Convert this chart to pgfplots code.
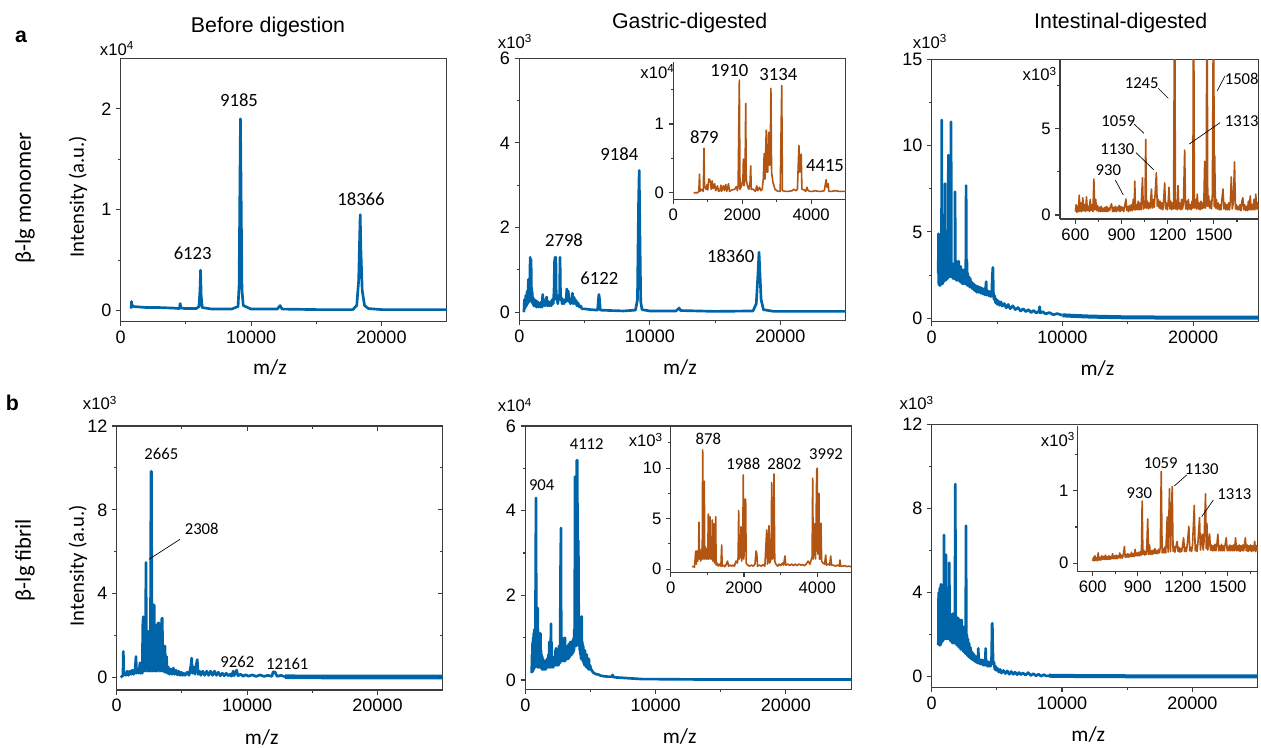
\documentclass[border=0pt]{standalone}
\usepackage{pgfplots}
\pgfplotsset{compat=1.18}
\usepackage{fontspec}
\setmainfont{Carlito}
\newfontfamily\arialf{Liberation Sans}
\definecolor{specblue}{RGB}{0,101,168}
\definecolor{specorange}{RGB}{178,84,18}
\definecolor{axgray}{RGB}{60,60,60}
\pgfplotsset{
  base/.style={scale only axis, anchor=south west,
    scaled x ticks=false, scaled y ticks=false,
    axis line style={draw=axgray, line width=0.8pt},
    tick style={draw=axgray, line width=0.8pt},
    major tick length=3.5pt, minor tick length=2pt,
    tick align=outside, tick pos=left,
    tick label style={font=\arialf\fontsize{13.5}{15}\selectfont, text=black},
    /pgf/number format/assume math mode=true,
  },
  mainax/.style={base, xmin=0, xmax=25000, xtick={0,10000,20000}, xticklabels={0,10000,20000}, minor xtick={5000,15000}},
  inset/.style={base, axis x line*=bottom, axis y line*=left,
    every outer x axis line/.append style={-}, every outer y axis line/.append style={-},
    tick label style={font=\arialf\fontsize{12.5}{14}\selectfont}},
  bl/.style={specblue, mark=none, line width=2pt, line join=round},
  orl/.style={specorange, mark=none, line width=1.2pt, line join=round},
}
\newcommand\annA{\fontsize{14}{16}\selectfont}
\newcommand\annB{\fontsize{12.5}{14}\selectfont}
\newcommand\scl[1]{\arialf\fontsize{12.5}{14}\selectfont x10\textsuperscript{#1}}
\begin{document}
\begin{tikzpicture}[x=0.75pt,y=-0.75pt]
\path[use as bounding box] (0,0) rectangle (1261,748);
% ---------------- a1
\begin{axis}[mainax, at={(0.75*120.7pt,-0.75*321.7pt)}, width=244.5pt, height=197.55pt,
  ymin=-0.11, ymax=2.5, ytick={0,1,2}, yticklabels={0,1,2}, minor ytick={0.5,1.5}]
\addplot[bl] coordinates {(800,0.02)(830,0.09)(860,0.06)(900,0.05)(1000,0.04)(1500,0.035)(2000,0.03)(3000,0.03)(4000,0.025)(4500,0.02)(4560,0.07)(4620,0.025)(5000,0.02)(5800,0.02)(6000,0.04)(6080,0.2)(6123,0.4)(6170,0.15)(6250,0.03)(7000,0.015)(8500,0.015)(9000,0.04)(9080,0.25)(9140,1.2)(9185,1.9)(9230,1.2)(9300,0.2)(9400,0.05)(10000,0.015)(12000,0.015)(12230,0.05)(12300,0.03)(12400,0.015)(15000,0.01)(17800,0.01)(18100,0.05)(18250,0.3)(18330,0.75)(18366,0.95)(18420,0.6)(18520,0.2)(18700,0.05)(19000,0.02)(20000,0.01)(25000,0.01)};
\end{axis}
% ---------------- a2
\begin{axis}[mainax, at={(0.75*519.3pt,-0.75*320.7pt)}, width=244.8pt, height=196.8pt,
  ymin=-0.2, ymax=6, ytick={0,2,4,6}, yticklabels={0,2,4,6}, minor ytick={1,3,5}]
\addplot[bl] coordinates {(350,0.0)(400,0.3)(450,0.1)(500,0.4)(550,0.15)(600,0.5)(650,0.2)(700,0.78)(730,0.3)(760,0.6)(800,0.25)(830,1.3)(860,0.4)(900,1.25)(940,0.3)(980,0.5)(1020,0.2)(1060,0.35)(1100,0.15)(1150,0.3)(1200,0.15)(1260,0.28)(1320,0.12)(1400,0.25)(1480,0.12)(1550,0.22)(1620,0.12)(1700,0.25)(1750,0.12)(1790,0.42)(1830,0.15)(1900,0.25)(1960,0.15)(2030,0.3)(2100,0.36)(2150,0.15)(2220,0.25)(2300,0.15)(2380,0.25)(2450,0.15)(2520,0.3)(2600,0.2)(2660,0.5)(2700,1.2)(2740,1.3)(2770,0.4)(2800,1.3)(2830,0.3)(2880,0.35)(2950,0.2)(3020,0.4)(3080,0.3)(3120,1.3)(3160,0.3)(3220,0.35)(3280,0.2)(3350,0.3)(3420,0.2)(3500,0.3)(3580,0.25)(3640,0.55)(3700,0.3)(3750,0.5)(3800,0.25)(3860,0.3)(3920,0.2)(4000,0.3)(4070,0.45)(4120,0.2)(4200,0.35)(4280,0.2)(4350,0.28)(4420,0.15)(4500,0.22)(4600,0.12)(4700,0.15)(4800,0.08)(5000,0.08)(5500,0.06)(6000,0.05)(6060,0.3)(6100,0.42)(6150,0.3)(6200,0.05)(7000,0.04)(8000,0.03)(8900,0.05)(9050,0.3)(9130,2.5)(9184,3.35)(9230,2.0)(9300,0.25)(9400,0.06)(10000,0.03)(12000,0.03)(12250,0.1)(12350,0.04)(15000,0.02)(17900,0.03)(18150,0.2)(18280,0.9)(18360,1.42)(18420,1.0)(18520,0.3)(18700,0.06)(19500,0.02)(25000,0.02)};
\end{axis}
\begin{axis}[inset, at={(0.75*673.3pt,-0.75*199.6pt)}, width=129.3pt, height=103.05pt,
  xmin=0, xmax=5000, ymin=-0.1, ymax=1.9, xtick={0,2000,4000}, xticklabels={0,2000,4000}, minor xtick={1000,3000},
  ytick={0,1}, yticklabels={0,1}, minor ytick={0.5,1.5}]
\addplot[orl] coordinates {(586,0.0)(700,0.0)(740,0.02)(761,0.27)(775,0.02)(830,0.05)(870,0.02)(890,0.65)(905,0.1)(950,0.05)(980,0.12)(1000,0.04)(1030,0.2)(1054,0.19)(1080,0.15)(1100,0.05)(1130,0.17)(1160,0.06)(1200,0.13)(1230,0.03)(1280,0.1)(1310,0.02)(1350,0.03)(1380,0.11)(1400,0.02)(1450,0.1)(1480,0.03)(1520,0.12)(1550,0.02)(1600,0.13)(1630,0.02)(1700,0.04)(1780,0.05)(1830,0.09)(1860,0.03)(1880,0.1)(1915,1.64)(1935,0.05)(1980,0.1)(2020,0.2)(2032,0.49)(2050,0.1)(2080,0.2)(2100,1.3)(2115,0.2)(2150,0.1)(2190,0.05)(2225,0.15)(2246,0.39)(2260,0.05)(2320,0.05)(2380,0.02)(2420,0.1)(2450,0.03)(2500,0.08)(2540,0.03)(2580,0.05)(2610,0.2)(2636,0.57)(2660,0.2)(2695,0.91)(2715,0.3)(2740,0.3)(2764,0.88)(2790,0.4)(2810,0.5)(2831,1.52)(2850,0.3)(2890,0.15)(2950,0.05)(3000,0.03)(3050,0.02)(3100,0.02)(3145,1.56)(3165,0.03)(3250,0.02)(3350,0.02)(3450,0.03)(3500,0.05)(3560,0.03)(3600,0.05)(3643,0.69)(3670,0.3)(3710,0.56)(3730,0.05)(3800,0.04)(3840,0.02)(3877,0.08)(3900,0.04)(3950,0.02)(4050,0.02)(4100,0.03)(4200,0.02)(4300,0.02)(4380,0.03)(4433,0.19)(4460,0.08)(4492,0.13)(4510,0.02)(4600,0.02)(4700,0.03)(4800,0.02)(5000,0.02)};
\end{axis}
% ---------------- a3
\begin{axis}[mainax, at={(0.75*931.7pt,-0.75*321.7pt)}, width=245.1pt, height=196.8pt,
  ymin=-0.2, ymax=15, ytick={0,5,10,15}, yticklabels={0,5,10,15}, minor ytick={2.5,7.5,12.5}]
\addplot[bl] coordinates {(500,2.6)(520,4.9)(540,2.0)(560,3.5)(580,1.9)(600,3.2)(620,2.0)(640,3.0)(660,1.9)(690,3.1)(720,2.0)(750,4.0)(767,11.48)(785,2.0)(810,3.0)(840,2.0)(870,3.2)(900,2.1)(930,3.0)(960,2.2)(990,4.5)(1020,7.8)(1040,2.2)(1070,3.2)(1100,2.2)(1130,3.0)(1160,2.3)(1190,3.1)(1220,2.3)(1250,3.8)(1276,9.45)(1300,2.4)(1330,3.3)(1360,2.4)(1390,3.2)(1420,2.4)(1450,3.5)(1481,11.38)(1510,2.4)(1540,3.2)(1570,2.4)(1600,3.1)(1630,2.3)(1660,3.0)(1700,2.3)(1740,3.2)(1770,2.3)(1788,7.33)(1810,2.3)(1850,3.0)(1880,2.2)(1920,3.3)(1950,2.2)(1990,3.0)(2030,2.2)(2070,3.3)(2100,2.2)(2140,2.9)(2180,2.1)(2220,3.0)(2260,2.1)(2300,2.8)(2340,2.0)(2380,2.8)(2420,2.0)(2460,2.8)(2500,2.0)(2540,2.7)(2580,2.0)(2610,3.3)(2633,7.68)(2655,2.0)(2690,3.4)(2720,1.9)(2760,2.6)(2800,1.9)(2850,2.4)(2900,1.8)(2950,2.3)(3000,1.8)(3060,2.1)(3120,1.7)(3200,2.0)(3280,1.6)(3360,1.9)(3440,1.5)(3520,1.85)(3600,1.5)(3680,1.8)(3760,1.45)(3840,1.75)(3920,1.4)(4000,1.7)(4080,1.35)(4130,1.8)(4167,2.12)(4200,1.35)(4280,1.6)(4360,1.3)(4440,1.55)(4520,1.25)(4600,1.6)(4640,2.5)(4681,2.95)(4720,1.5)(4760,1.1)(4820,1.3)(4880,0.9)(4950,1.1)(5020,0.8)(5100,1.0)(5200,0.75)(5300,0.95)(5400,0.7)(5550,0.85)(5700,0.6)(5850,0.8)(6000,0.55)(6200,0.72)(6400,0.5)(6600,0.62)(6800,0.42)(7000,0.55)(7200,0.38)(7400,0.5)(7600,0.33)(7800,0.45)(8000,0.3)(8200,0.4)(8258,0.67)(8300,0.3)(8500,0.38)(8700,0.25)(9000,0.33)(9300,0.2)(9600,0.27)(10000,0.17)};
\addplot[bl, line width=3pt] coordinates {(10000,0.17)(11000,0.13)(12000,0.1)(13000,0.08)(15000,0.05)(18000,0.04)(21000,0.03)(25000,0.03)};
\end{axis}
\begin{axis}[inset, at={(0.75*1060pt,-0.75*219pt)}, width=148.9pt, height=119.8pt,
  xmin=500, xmax=1790, ymin=-0.23, ymax=9, xtick={600,900,1200,1500}, xticklabels={600,900,1200,1500}, minor xtick={750,1050,1350,1650},
  ytick={0,5}, yticklabels={0,5}, minor ytick={2.5,7.5}]
\addplot[orl] coordinates {(600,0.2)(605,0.6)(610,0.15)(615,0.5)(620,0.2)(625,1.15)(630,0.2)(636,0.7)(642,0.2)(648,1.0)(654,0.25)(660,0.6)(666,0.2)(672,1.05)(678,0.25)(684,0.5)(690,0.2)(696,0.9)(702,0.25)(708,0.6)(714,0.2)(720,2.08)(726,0.3)(732,0.9)(738,0.25)(744,0.55)(750,0.2)(756,0.45)(762,0.2)(768,0.5)(774,0.2)(780,0.4)(786,0.2)(792,0.45)(798,0.2)(804,0.5)(810,0.2)(816,0.4)(822,0.25)(828,0.5)(835,0.65)(841,0.2)(848,0.45)(854,0.2)(860,0.5)(866,0.2)(872,0.45)(878,0.25)(884,0.55)(890,0.2)(896,0.5)(902,0.25)(908,0.45)(914,0.2)(920,0.5)(928,0.92)(934,0.25)(940,0.5)(946,0.2)(952,0.55)(958,0.25)(964,0.6)(970,0.25)(976,0.9)(982,0.3)(986,1.96)(990,0.3)(996,0.6)(1002,0.3)(1008,0.8)(1014,0.3)(1020,0.7)(1026,0.3)(1031,1.2)(1036,2.15)(1041,0.35)(1046,0.8)(1052,0.4)(1057,4.37)(1062,0.4)(1068,0.8)(1074,0.35)(1080,0.7)(1086,0.4)(1094,1.5)(1100,0.4)(1106,0.9)(1112,0.45)(1118,1.2)(1126,2.44)(1132,0.5)(1138,0.9)(1144,0.4)(1150,0.8)(1156,0.35)(1162,0.7)(1168,0.3)(1174,0.9)(1180,1.86)(1186,0.35)(1192,0.7)(1198,0.3)(1204,0.9)(1208,1.6)(1214,0.35)(1220,0.8)(1226,0.3)(1232,0.7)(1238,0.35)(1245,15)(1250,0.35)(1256,0.8)(1261,0.3)(1267,1.7)(1272,0.35)(1278,0.7)(1284,0.3)(1290,0.9)(1296,0.35)(1302,0.7)(1310,3.75)(1316,0.35)(1322,0.8)(1328,0.3)(1334,0.9)(1340,0.35)(1346,0.6)(1352,0.3)(1358,0.8)(1363,0.4)(1368,15)(1373,0.4)(1380,0.9)(1386,0.35)(1392,1.2)(1398,0.35)(1404,0.7)(1410,0.3)(1416,0.8)(1422,0.35)(1428,0.7)(1434,0.4)(1440,3.1)(1446,0.4)(1450,1.0)(1455,15)(1460,0.5)(1466,1.1)(1472,0.4)(1478,0.8)(1484,0.35)(1490,1.2)(1498,15)(1502,0.5)(1505,3.46)(1510,0.4)(1516,0.9)(1522,0.35)(1528,0.7)(1534,0.3)(1540,0.6)(1546,0.3)(1552,0.9)(1559,1.5)(1565,0.35)(1571,0.7)(1577,0.3)(1583,0.6)(1589,0.3)(1595,0.7)(1601,0.3)(1607,0.8)(1613,2.2)(1619,0.35)(1626,0.7)(1634,3.07)(1640,0.35)(1646,0.6)(1652,0.3)(1658,0.5)(1664,0.3)(1670,0.6)(1676,0.25)(1682,0.8)(1688,1.0)(1694,0.3)(1700,0.6)(1706,0.25)(1712,0.5)(1718,0.25)(1724,0.8)(1730,0.3)(1736,1.1)(1742,0.3)(1748,0.6)(1754,0.3)(1760,0.9)(1766,0.3)(1772,1.2)(1778,0.35)(1784,0.7)(1790,0.3)};
\end{axis}
% ---------------- b1
\begin{axis}[mainax, at={(0.75*116.7pt,-0.75*690pt)}, width=244.5pt, height=198pt,
  ymin=-0.6, ymax=12, ytick={0,4,8,12}, yticklabels={0,4,8,12}, minor ytick={2,6,10}]
\addplot[bl] coordinates {(306,0.0)(400,0.05)(480,0.1)(510,1.24)(540,0.1)(600,0.2)(700,0.1)(800,0.3)(900,0.1)(1000,0.3)(1100,0.15)(1200,0.35)(1300,0.15)(1400,0.3)(1480,1.0)(1520,0.2)(1600,0.4)(1700,0.2)(1785,0.7)(1830,0.2)(1900,0.6)(1960,0.2)(2000,2.5)(2040,2.9)(2080,0.3)(2140,1.8)(2200,0.3)(2245,5.49)(2290,0.4)(2340,2.2)(2380,0.3)(2420,2.2)(2470,0.3)(2530,2.0)(2580,0.3)(2630,9.83)(2670,9.83)(2700,0.3)(2760,2.0)(2800,0.3)(2850,3.47)(2880,3.4)(2920,0.3)(2980,2.5)(3030,0.3)(3065,2.5)(3110,0.3)(3170,2.6)(3240,2.6)(3290,0.3)(3350,1.5)(3400,0.3)(3460,2.8)(3495,2.83)(3540,0.3)(3600,1.5)(3660,0.25)(3700,1.5)(3760,0.25)(3820,1.0)(3880,0.2)(3955,0.5)(4050,0.15)(4150,0.4)(4250,0.15)(4340,0.45)(4450,0.15)(4550,0.35)(4650,0.12)(4750,0.3)(4850,0.1)(4950,0.25)(5050,0.1)(5150,0.2)(5250,0.1)(5400,0.25)(5550,0.1)(5700,0.6)(5747,0.92)(5800,0.2)(5900,0.5)(6000,0.15)(6100,0.6)(6176,0.85)(6250,0.15)(6350,0.3)(6450,0.1)(6600,0.3)(6750,0.1)(6900,0.3)(7050,0.1)(7200,0.3)(7350,0.1)(7500,0.3)(7650,0.1)(7800,0.25)(7950,0.08)(8100,0.2)(8250,0.08)(8400,0.2)(8550,0.08)(8700,0.15)(8800,0.06)(8935,0.3)(9000,0.08)(9100,0.2)(9195,0.35)(9300,0.08)(9500,0.15)(9700,0.06)(9900,0.13)(10100,0.06)(10400,0.12)(10700,0.05)(11000,0.12)(11300,0.05)(11600,0.1)(11900,0.05)(12000,0.27)(12150,0.25)(12300,0.05)(12600,0.1)(12900,0.03)};
\addplot[bl, line width=3.5pt] coordinates {(12900,0.03)(18000,0.02)(25000,0.02)};
\end{axis}
\begin{axis}[scale only axis, anchor=south west, at={(0.75*116.7pt,-0.75*690pt)}, width=244.5pt, height=198pt,
  scaled x ticks=false, scaled y ticks=false,
  xmin=0, xmax=25000, ymin=-0.6, ymax=12, axis x line*=top, axis y line*=right,
  every outer x axis line/.append style={-}, every outer y axis line/.append style={-},
  axis line style={draw=none}, tick align=inside, tick style={draw=axgray, line width=0.8pt},
  major tick length=3.5pt, minor tick length=2pt,
  xtick={0,10000,20000}, minor xtick={5000,15000}, ytick={0,4,8,12}, minor ytick={2,6,10},
  xticklabels={}, yticklabels={}]
\addplot[draw=none] coordinates {(0,0)};
\end{axis}
% ---------------- b2
\begin{axis}[mainax, at={(0.75*525.3pt,-0.75*689.3pt)}, width=244.3pt, height=197.5pt,
  ymin=-0.22, ymax=6, ytick={0,2,4,6}, yticklabels={0,2,4,6}, minor ytick={1,3,5}]
\addplot[bl] coordinates {(490,0.16)(520,0.6)(540,0.25)(560,0.9)(580,0.2)(600,1.0)(620,0.3)(640,1.1)(660,0.25)(680,0.9)(700,1.2)(720,0.3)(740,1.0)(760,0.3)(780,1.5)(820,4.3)(850,0.4)(865,1.2)(880,1.7)(900,0.4)(920,1.3)(940,0.3)(960,1.7)(980,0.4)(1000,1.1)(1020,0.3)(1040,0.9)(1060,0.3)(1080,1.1)(1100,0.3)(1120,0.9)(1140,0.3)(1160,1.1)(1180,0.3)(1200,0.7)(1225,0.3)(1250,0.6)(1275,0.25)(1300,0.55)(1330,0.25)(1360,0.5)(1390,0.25)(1420,0.45)(1450,0.25)(1480,0.4)(1510,0.25)(1540,0.45)(1570,0.25)(1600,0.45)(1630,0.3)(1660,0.5)(1690,0.3)(1720,0.5)(1750,0.3)(1780,0.6)(1810,0.3)(1840,0.9)(1870,0.3)(1900,0.5)(1935,0.3)(1970,1.33)(1990,0.35)(2010,0.9)(2035,0.3)(2060,0.5)(2090,0.3)(2120,0.5)(2150,0.3)(2180,0.5)(2210,0.35)(2240,0.55)(2270,0.35)(2300,0.7)(2330,0.35)(2355,0.75)(2380,0.35)(2410,0.6)(2440,0.35)(2470,0.6)(2500,0.35)(2530,0.7)(2560,0.35)(2580,0.8)(2610,0.4)(2640,0.7)(2670,0.4)(2700,2.5)(2740,3.59)(2760,0.45)(2780,1.0)(2810,0.45)(2840,1.0)(2870,0.45)(2900,0.8)(2930,0.45)(2960,0.8)(2980,0.45)(3000,0.8)(3020,0.45)(3047,1.0)(3075,0.45)(3100,0.8)(3130,0.5)(3160,0.75)(3190,0.5)(3220,0.8)(3250,0.5)(3280,0.8)(3310,0.5)(3340,0.85)(3370,0.55)(3400,0.8)(3430,0.55)(3460,0.9)(3490,0.6)(3520,0.85)(3540,0.6)(3560,0.9)(3585,0.6)(3607,0.9)(3635,0.65)(3660,0.95)(3690,0.65)(3720,1.0)(3740,0.7)(3760,1.2)(3790,0.8)(3815,4.8)(3850,1.0)(3875,1.5)(3900,0.8)(3950,5.19)(3990,5.19)(4030,1.0)(4070,3.3)(4100,1.5)(4125,0.8)(4150,1.3)(4175,0.7)(4200,1.2)(4225,0.6)(4250,1.0)(4280,0.5)(4330,1.5)(4355,0.5)(4380,0.9)(4410,0.45)(4450,0.8)(4475,0.4)(4500,0.7)(4540,0.35)(4580,0.7)(4610,0.35)(4640,0.6)(4680,0.3)(4720,0.6)(4760,0.3)(4800,0.5)(4840,0.25)(4880,0.5)(4920,0.25)(4965,0.35)(5050,0.25)(5200,0.18)(5400,0.14)(5600,0.13)(5800,0.1)(6000,0.09)(6300,0.08)(6650,0.08)(6700,0.12)(6750,0.07)(7000,0.06)(7500,0.05)(8000,0.04)(8500,0.03)(9000,0.02)(10000,0.02)(12000,0.015)(15000,0.01)(25000,0.01)};
\end{axis}
\begin{axis}[inset, at={(0.75*670.7pt,-0.75*572.7pt)}, width=135.2pt, height=109.5pt,
  xmin=0, xmax=4920, ymin=-0.35, ymax=14.1, xtick={0,2000,4000}, xticklabels={0,2000,4000}, minor xtick={1000,3000},
  ytick={0,5,10}, yticklabels={0,5,10}, minor ytick={2.5,7.5,12.5}]
\addplot[orl] coordinates {(589,0.2)(620,0.3)(650,0.2)(680,1.7)(690,1.8)(700,0.5)(720,1.8)(740,0.8)(760,1.8)(772,4.65)(785,1.0)(800,1.8)(820,0.8)(840,2.0)(860,1.0)(873,11.8)(885,1.0)(900,2.0)(917,8.7)(930,1.0)(950,2.2)(970,1.0)(990,2.0)(1010,1.0)(1026,5.45)(1040,1.0)(1055,2.2)(1072,5.2)(1085,1.0)(1100,2.0)(1120,1.0)(1135,4.88)(1150,0.8)(1165,1.5)(1181,4.5)(1195,0.6)(1210,1.2)(1228,5.2)(1240,0.4)(1270,0.6)(1300,0.3)(1340,0.5)(1370,0.3)(1391,2.4)(1405,0.3)(1450,0.4)(1480,0.25)(1520,0.5)(1550,0.8)(1580,0.3)(1620,0.4)(1660,0.3)(1700,0.4)(1740,0.3)(1780,0.8)(1820,0.6)(1840,1.2)(1855,5.8)(1870,1.0)(1900,1.5)(1918,4.2)(1935,0.8)(1965,1.5)(1981,9.33)(1995,1.0)(2010,2.0)(2030,6.93)(2046,6.93)(2060,0.6)(2100,0.4)(2150,0.3)(2200,0.4)(2250,0.3)(2300,0.5)(2330,1.8)(2350,1.5)(2370,0.3)(2420,0.4)(2470,0.3)(2520,0.45)(2570,0.3)(2620,3.89)(2640,0.5)(2660,1.0)(2682,4.3)(2700,0.6)(2740,1.0)(2756,8.57)(2775,1.0)(2800,1.2)(2819,9.43)(2840,0.8)(2870,0.5)(2920,0.3)(2960,0.5)(3000,0.35)(3050,0.6)(3080,0.4)(3119,1.3)(3140,0.4)(3200,0.5)(3250,0.35)(3300,0.5)(3350,0.35)(3400,0.5)(3450,0.35)(3500,0.5)(3550,0.4)(3600,0.45)(3650,0.35)(3700,0.5)(3750,0.8)(3800,0.5)(3840,1.0)(3860,1.2)(3875,9.0)(3890,1.0)(3910,1.5)(3938,4.5)(3955,1.0)(3985,9.8)(4000,10.0)(4015,1.5)(4030,2.0)(4046,7.5)(4060,1.0)(4080,1.0)(4101,4.55)(4120,0.8)(4160,0.6)(4200,0.5)(4230,1.4)(4250,0.4)(4300,0.5)(4340,0.4)(4366,1.3)(4390,0.4)(4440,0.4)(4500,0.3)(4550,0.4)(4600,0.3)(4620,0.9)(4640,0.3)(4700,0.3)(4750,0.35)(4800,0.25)(4850,0.3)(4920,0.25)};
\end{axis}
% ---------------- b3
\begin{axis}[mainax, at={(0.75*931.7pt,-0.75*687.3pt)}, width=244.35pt, height=197.25pt,
  ymin=-0.5, ymax=12, ytick={0,4,8,12}, yticklabels={0,4,8,12}, minor ytick={2,6,10}]
\addplot[bl] coordinates {(507,1.5)(530,4.0)(550,1.6)(570,3.5)(590,1.5)(610,4.2)(630,1.5)(650,3.8)(670,1.5)(690,4.3)(714,4.4)(740,1.6)(770,3.8)(800,1.7)(830,4.0)(860,1.7)(890,4.2)(920,1.8)(944,6.74)(970,1.8)(1000,5.0)(1030,1.8)(1060,4.5)(1097,5.8)(1130,1.8)(1160,4.0)(1190,1.8)(1220,3.8)(1250,1.8)(1290,3.5)(1320,1.8)(1350,5.42)(1380,1.8)(1410,3.0)(1440,1.7)(1470,2.9)(1500,1.7)(1540,2.8)(1580,1.6)(1620,3.0)(1660,1.6)(1700,2.9)(1740,1.6)(1780,3.0)(1811,9.16)(1840,1.6)(1870,2.9)(1910,1.5)(1950,2.8)(1990,1.5)(2030,2.8)(2070,1.4)(2110,2.7)(2150,1.4)(2190,2.7)(2230,1.3)(2270,2.6)(2302,2.7)(2340,1.3)(2380,2.4)(2420,1.2)(2460,2.3)(2500,1.2)(2540,2.1)(2580,1.1)(2610,2.5)(2633,7.18)(2660,1.1)(2700,2.0)(2740,1.0)(2780,1.8)(2820,0.95)(2870,1.6)(2920,0.9)(2970,1.4)(3020,0.85)(3080,1.2)(3140,0.8)(3200,1.1)(3260,0.75)(3320,1.0)(3380,0.7)(3440,0.95)(3500,0.65)(3550,0.9)(3577,1.35)(3600,0.65)(3660,0.85)(3720,0.6)(3780,0.8)(3840,0.6)(3900,0.8)(3960,0.55)(4020,0.75)(4080,0.55)(4120,1.0)(4145,1.35)(4170,0.55)(4230,0.75)(4290,0.5)(4350,0.7)(4410,0.5)(4470,0.7)(4530,0.5)(4600,1.0)(4630,2.5)(4652,2.54)(4680,1.5)(4720,0.6)(4780,0.7)(4840,0.35)(4900,0.5)(4960,0.3)(5050,0.4)(5150,0.22)(5250,0.35)(5350,0.18)(5500,0.3)(5650,0.15)(5800,0.28)(5950,0.12)(6100,0.25)(6250,0.12)(6400,0.22)(6550,0.1)(6700,0.2)(6850,0.1)(7000,0.18)(7200,0.08)(7400,0.2)(7600,0.06)(7800,0.15)(8000,0.05)(8200,0.12)(8400,0.03)(8600,0.1)(8800,0.04)(9000,0.05)};
\addplot[bl, line width=3pt] coordinates {(9000,0.05)(12000,0.03)(18000,0.02)(25000,0.02)};
\end{axis}
\begin{axis}[inset, at={(0.75*1077.7pt,-0.75*571.7pt)}, width=135.2pt, height=109.3pt,
  xmin=500, xmax=1700, ymin=-0.12, ymax=1.9, xtick={600,900,1200,1500}, xticklabels={600,900,1200,1500}, minor xtick={750,1050,1350,1650},
  ytick={0,1}, yticklabels={0,1}, minor ytick={0.5,1.5}]
\addplot[orl] coordinates {(600,0.03)(605,0.08)(610,0.03)(615,0.1)(620,0.04)(625,0.07)(630,0.03)(636,0.14)(642,0.04)(648,0.08)(654,0.04)(660,0.1)(666,0.05)(672,0.09)(678,0.05)(684,0.11)(690,0.05)(696,0.09)(702,0.05)(708,0.1)(714,0.05)(720,0.09)(726,0.06)(732,0.13)(738,0.06)(744,0.1)(750,0.06)(756,0.11)(762,0.06)(768,0.1)(774,0.07)(780,0.14)(786,0.07)(792,0.11)(798,0.07)(804,0.12)(811,0.23)(816,0.08)(822,0.12)(828,0.08)(834,0.13)(840,0.08)(846,0.12)(852,0.09)(858,0.15)(864,0.09)(870,0.13)(876,0.09)(882,0.19)(888,0.1)(894,0.14)(900,0.1)(906,0.15)(912,0.1)(918,0.16)(924,0.11)(929,0.86)(934,0.12)(940,0.18)(946,0.11)(952,0.16)(958,0.12)(966,0.61)(972,0.12)(978,0.25)(984,0.12)(990,0.17)(996,0.12)(1002,0.18)(1008,0.13)(1014,0.2)(1020,0.13)(1026,0.17)(1032,0.13)(1038,0.19)(1044,0.14)(1050,0.22)(1056,1.27)(1062,0.14)(1068,0.2)(1074,0.14)(1080,0.22)(1086,0.14)(1096,0.64)(1102,0.15)(1111,1.03)(1118,0.16)(1129,1.06)(1135,0.16)(1141,0.23)(1147,0.15)(1153,0.22)(1162,0.3)(1168,0.16)(1174,0.22)(1180,0.15)(1186,0.2)(1192,0.16)(1198,0.24)(1205,0.35)(1211,0.16)(1217,0.22)(1223,0.16)(1229,0.25)(1240,0.51)(1246,0.17)(1252,0.22)(1258,0.16)(1264,0.24)(1276,0.8)(1282,0.17)(1288,0.25)(1294,0.16)(1300,0.27)(1311,0.63)(1317,0.18)(1323,0.3)(1329,0.4)(1335,0.18)(1341,0.3)(1351,0.96)(1356,0.2)(1360,0.55)(1366,0.18)(1372,0.3)(1378,0.4)(1384,0.18)(1390,0.25)(1396,0.17)(1402,0.24)(1408,0.17)(1414,0.26)(1420,0.17)(1426,0.25)(1433,0.4)(1439,0.17)(1445,0.24)(1451,0.17)(1457,0.26)(1463,0.17)(1469,0.24)(1475,0.17)(1481,0.25)(1489,0.35)(1495,0.17)(1501,0.23)(1507,0.17)(1513,0.25)(1519,0.17)(1525,0.24)(1531,0.17)(1537,0.25)(1543,0.17)(1551,0.35)(1557,0.17)(1563,0.24)(1569,0.17)(1575,0.25)(1581,0.16)(1587,0.24)(1593,0.17)(1599,0.25)(1605,0.17)(1616,0.35)(1622,0.17)(1628,0.25)(1634,0.16)(1640,0.24)(1646,0.17)(1652,0.25)(1658,0.16)(1664,0.24)(1670,0.17)(1678,0.3)(1684,0.16)(1690,0.24)(1696,0.17)(1700,0.22)};
\end{axis}
% ---------------- texts
\node[font=\arialf\bfseries\fontsize{16}{18}\selectfont] at (21,37) {a};
\node[font=\arialf\bfseries\fontsize{16}{18}\selectfont] at (12.5,403) {b};
\node[font=\arialf\fontsize{16}{18}\selectfont] at (268,27) {Before digestion};
\node[font=\arialf\fontsize{16}{18}\selectfont] at (689.7,22.7) {Gastric-digested};
\node[font=\arialf\fontsize{16}{18}\selectfont] at (1120.8,23.3) {Intestinal-digested};
\node[rotate=90, font=\fontsize{17}{19}\selectfont] at (25,198) {β-lg monomer};
\node[rotate=90, font=\fontsize{17}{19}\selectfont] at (25,560) {β-lg fibril};
\node[rotate=90, font=\fontsize{15.5}{17}\selectfont] at (78,196.7) {Intensity (a.u.)};
\node[rotate=90, font=\fontsize{15.5}{17}\selectfont] at (78,565.8) {Intensity (a.u.)};
\foreach \p in {(270,368),(680,368),(1097.5,369),(261.7,738),(679.7,737),(1088.3,735)}
  \node[font=\fontsize{16}{18}\selectfont] at \p {m/z};
\node at (117,48.7) {\scl{4}};
\node at (515,41.7) {\scl{3}};
\node at (930,41.7) {\scl{3}};
\node at (100,403) {\scl{3}};
\node at (515,405) {\scl{4}};
\node at (916.7,403) {\scl{3}};
\node at (657.5,71.7) {\scl{4}};
\node at (1039.7,74) {\scl{3}};
\node at (645.8,440) {\scl{3}};
\node at (1058,439.3) {\scl{3}};
% annotations a-row
\node[font=\annA] at (192.7,253.3) {6123};
\node[font=\annA] at (239,100) {9185};
\node[font=\annA] at (361,199) {18366};
\node[font=\annA] at (564,240) {2798};
\node[font=\annA] at (599.3,278.3) {6122};
\node[font=\annA] at (619.3,154) {9184};
\node[font=\annA] at (730.7,255.7) {18360};
\node[font=\annA] at (704.3,136.7) {879};
\node[font=\annA] at (729.3,71) {1910};
\node[font=\annA] at (778.3,75) {3134};
\node[font=\annA] at (825,165.7) {4415};
\node[font=\annB] at (1141.7,82.7) {1245};
\node[font=\annB] at (1241.7,79) {1508};
\node[font=\annB] at (1118.3,120.7) {1059};
\node[font=\annB] at (1241.7,120.7) {1313};
\node[font=\annB] at (1117.3,149) {1130};
\node[font=\annB] at (1108.3,170) {930};
\draw[line width=0.5pt] (1158.3,88.3) -- (1168.3,98.3);
\draw[line width=0.5pt] (1225,76) -- (1217.3,90.7);
\draw[line width=0.5pt] (1134,124) -- (1144,133.3);
\draw[line width=0.5pt] (1220,122.7) -- (1189.3,144);
\draw[line width=0.5pt] (1136,152.7) -- (1154,170);
\draw[line width=0.5pt] (1115.3,180) -- (1123.3,195);
% annotations b-row
\node[font=\annB] at (161.3,454) {2665};
\node[font=\annB] at (201.7,529.3) {2308};
\draw[line width=0.5pt] (180,539.3) -- (149,559.3);
\node[font=\annB] at (237.3,662.3) {9262};
\node[font=\annB] at (287.3,664.3) {12161};
\node[font=\annB] at (541.7,485) {904};
\node[font=\annB] at (586.7,444) {4112};
\node[font=\annB] at (708.3,439.3) {878};
\node[font=\annB] at (743.3,464.3) {1988};
\node[font=\annB] at (784.3,464.3) {2802};
\node[font=\annB] at (826,454) {3992};
\node[font=\annB] at (1139.3,493.3) {930};
\node[font=\annB] at (1160.7,462.7) {1059};
\node[font=\annB] at (1201.7,469) {1130};
\draw[line width=0.5pt] (1186.7,475) -- (1174.3,486);
\node[font=\annB] at (1234.3,494.3) {1313};
\draw[line width=0.5pt] (1213.3,500) -- (1201.7,516.7);
\end{tikzpicture}
\end{document}
